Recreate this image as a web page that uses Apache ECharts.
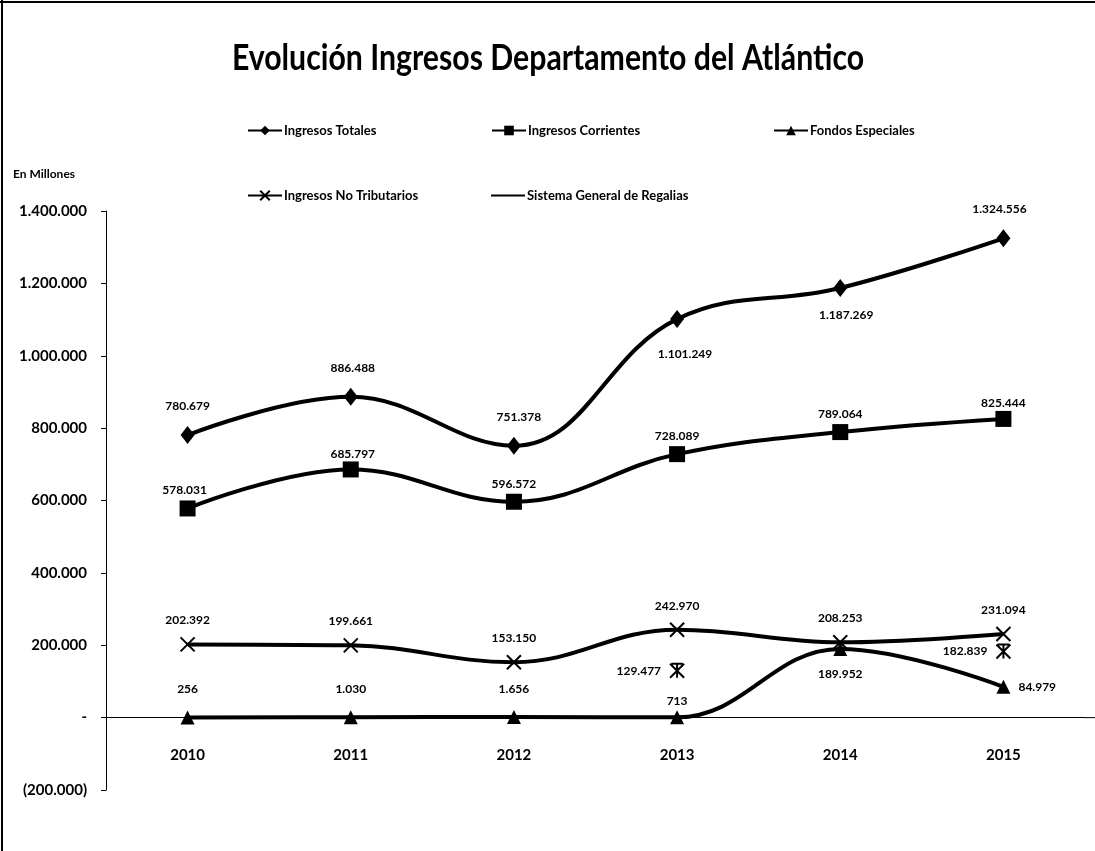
<!DOCTYPE html>
<html>
<head>
<meta charset="utf-8">
<script src="https://cdn.jsdelivr.net/npm/echarts@6/dist/echarts.min.js"></script>
<style>html,body{margin:0;padding:0;background:#fff}#c{width:1095px;height:851px}</style>
</head>
<body>
<div id="c"></div>
<script>
const years = ['2010','2011','2012','2013','2014','2015'];
const ingresosTotales = [780679, 886488, 751378, 1101249, 1187269, 1324556];
const ingresosCorrientes = [578031, 685797, 596572, 728089, 789064, 825444];
const fondosEspeciales = [256, 1030, 1656, 713, 189952, 84979];
const ingresosNoTributarios = [202392, 199661, 153150, 242970, 208253, 231094];
const sistemaGeneralRegalias = [null, null, null, 129477, null, 182839];
const yTicks = [-200000, 1400000, 200000];

const FONT = "Lato,'Open Sans',sans-serif";
function fmt(v){
  if (v === 0) return '-';
  const s = Math.abs(Math.round(v)).toString().replace(/\B(?=(\d{3})+(?!\d))/g, '.');
  return v < 0 ? '(' + s + ')' : s;
}
function withLabels(arr, positions, distances, offsets){
  return arr.map((v,i)=> v == null ? null : ({
    value: v,
    label: {position: positions[i], distance: distances[i], offset: offsets ? offsets[i] : [0,0]}
  }));
}
const lbl = {show:true, formatter: p => fmt(p.value), color:'#000', fontFamily:FONT, fontWeight:'bold', fontSize:12};
const XPATH = 'path://M0,0L10,10M10,0L0,10';
const STARPATH = 'path://M0,0L10,10M10,0L0,10M1,0L9,0M5,0L5,10';

const chart = echarts.init(document.getElementById('c'));
const legendBase = {orient:'horizontal', itemWidth:34, itemHeight:12, itemGap:2,
  textStyle:{color:'#000', fontFamily:FONT, fontWeight:'bold', fontSize:13, padding:[0,0,0,-3]}};
chart.setOption({
  animation:false,
  backgroundColor:'#fff',
  legend:[
    Object.assign({}, legendBase, {data:['Ingresos Totales'], left:242, top:119}),
    Object.assign({}, legendBase, {data:['Ingresos Corrientes'], left:486, top:119}),
    Object.assign({}, legendBase, {data:['Fondos Especiales'], left:768, top:119}),
    Object.assign({}, legendBase, {data:['Ingresos No Tributarios'], left:242, top:184}),
    Object.assign({}, legendBase, {data:[{name:'Sistema General de Regalias', icon:'rect', itemStyle:{borderWidth:0, color:'#000'}}], itemHeight:2, left:486, top:184})
  ],
  graphic:[
    {id:'title', type:'text', x:548, y:58, scaleX:0.84, style:{text:'Evolución Ingresos Departamento del Atlántico', fill:'#000',
      font:"bold 36px Lato,'Open Sans',sans-serif", textAlign:'center', textVerticalAlign:'middle'}},
    {id:'unit', type:'text', left:13, top:168, style:{text:'En Millones', fill:'#000', font:"bold 12px Lato,'Open Sans',sans-serif"}},
    {id:'bl', type:'line', shape:{x1:2,y1:0,x2:2,y2:851}, style:{stroke:'#000', lineWidth:2}},
    {id:'bt', type:'line', shape:{x1:0,y1:2,x2:1095,y2:2}, style:{stroke:'#000', lineWidth:2}}
  ],
  grid:{left:106, right:10, top:211, bottom:61},
  xAxis:{type:'category', data:years, boundaryGap:true,
    axisLine:{show:true, onZero:true, lineStyle:{color:'#000', width:1}},
    axisTick:{show:false},
    axisLabel:{color:'#000', fontFamily:FONT, fontWeight:'bold', fontSize:15, margin:-42},
    splitLine:{show:false}},
  yAxis:{type:'value', min:yTicks[0], max:yTicks[1], interval:yTicks[2],
    axisLine:{show:true, lineStyle:{color:'#000', width:1}},
    axisTick:{show:true, inside:false, length:5, lineStyle:{color:'#000'}},
    axisLabel:{color:'#000', fontFamily:FONT, fontWeight:'bold', fontSize:15, margin:19, formatter: v => fmt(v)},
    splitLine:{show:false}},
  series:[
    {name:'Ingresos Totales', type:'line', smooth:0.4, symbol:'diamond', symbolSize:[14,18],
      data: withLabels(ingresosTotales, ['top','top','top','bottom','bottom','top'], [14,14,14,20,12,14], [[0,0],[2,0],[5,0],[8,0],[6,0],[-4,0]]),
      lineStyle:{color:'#000', width:4}, itemStyle:{color:'#000'}, label:lbl},
    {name:'Ingresos Corrientes', type:'line', smooth:0.4, symbol:'rect', symbolSize:16,
      data: withLabels(ingresosCorrientes, ['top','top','top','top','top','top'], [4,1,4,4,4,2], [[-3,0],[2,0],[0,0],[0,0],[0,0],[0,0]]),
      lineStyle:{color:'#000', width:4}, itemStyle:{color:'#000'}, label:lbl},
    {name:'Fondos Especiales', type:'line', smooth:0.4, symbol:'triangle', symbolSize:14,
      data: withLabels(fondosEspeciales, ['top','top','top','top','bottom','right'], [15,15,15,3,12,8], null),
      lineStyle:{color:'#000', width:4}, itemStyle:{color:'#000'}, label:lbl},
    {name:'Ingresos No Tributarios', type:'line', smooth:0.4, symbol:XPATH, symbolSize:14,
      data: withLabels(ingresosNoTributarios, ['top','top','top','top','top','top'], [10,10,10,10,10,10], null),
      lineStyle:{color:'#000', width:4}, itemStyle:{color:'#000', borderColor:'#000', borderWidth:2}, label:lbl},
    {name:'Sistema General de Regalias', type:'line', smooth:0.4, symbol:STARPATH, symbolSize:14, connectNulls:false, showSymbol:true,
      data: withLabels(sistemaGeneralRegalias, [null,null,null,'left',null,'left'], [0,0,0,8,0,8], null),
      lineStyle:{color:'#000', width:2}, itemStyle:{color:'#000', borderColor:'#000', borderWidth:2}, label:lbl}
  ]
});
// extend the zero baseline to the right edge of the picture, as in the reference
const zeroPt = chart.convertToPixel({gridIndex:0}, [years.length - 1, 0]);
const gridRight = zeroPt[0] + (zeroPt[0] - chart.convertToPixel({gridIndex:0}, [years.length - 2, 0])[0]) / 2;
chart.setOption({graphic:[{id:'ext', type:'line', shape:{x1:gridRight, y1:zeroPt[1], x2:1095, y2:zeroPt[1]}, style:{stroke:'#000', lineWidth:1}}]});
</script>
</body>
</html>
